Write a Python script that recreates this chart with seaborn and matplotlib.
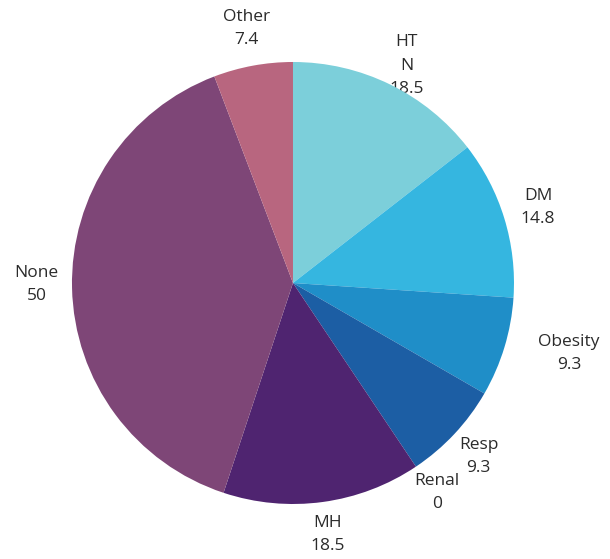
import matplotlib
matplotlib.use("Agg")
import matplotlib.pyplot as plt
import numpy as np
import seaborn as sns

# Comorbidity categories and their values (clockwise from 12 o'clock)
categories = ["HT\nN", "DM", "Obesity", "Resp", "Renal", "MH", "None", "Other"]
values = [18.5, 14.8, 9.3, 9.3, 0, 18.5, 50, 7.4]
value_labels = ["18.5", "14.8", "9.3", "9.3", "0", "18.5", "50", "7.4"]

slice_colors = ["#7ccfda", "#35b6e0", "#1f8ec8", "#1c5ea4",
                "#2a3f8f", "#4f2470", "#7e4677", "#b8667f"]

# label placement: radial distance (in radii) and angular nudge (degrees)
label_dist = [1.11, 1.16, 1.29, 1.15, 1.15, 1.15, 1.16, 1.17]
label_nudge = [-1.5, 0.0, 2.5, 0.0, 0.8, 0.0, -0.9, 0.0]

sns.set_theme(style="white")
plt.rcParams["font.family"] = ["Open Sans", "DejaVu Sans"]

fig = plt.figure(figsize=(6.10, 5.59), dpi=100)
ax = fig.add_axes([0.118, 0.0984, 0.7246, 0.7907])

palette = sns.color_palette(slice_colors)
wedges, _ = ax.pie(values, colors=palette, startangle=90, counterclock=False,
                   radius=1.0, wedgeprops=dict(linewidth=0, zorder=2))

# labels sit beneath the wedges, so the pie edge may overlap them
for w, name, val, d, nudge in zip(wedges, categories, value_labels,
                                  label_dist, label_nudge):
    mid = np.deg2rad((w.theta1 + w.theta2) / 2.0 + nudge)
    ax.text(d * np.cos(mid), d * np.sin(mid), f"{name}\n{val}",
            ha="center", va="center", fontsize=12.5, color="#2b2b2b",
            linespacing=1.6, zorder=1)

ax.set_xlim(-1, 1)
ax.set_ylim(-1, 1)
ax.set_aspect("equal")
ax.axis("off")

fig.savefig("out.png", dpi=100, facecolor="white")
